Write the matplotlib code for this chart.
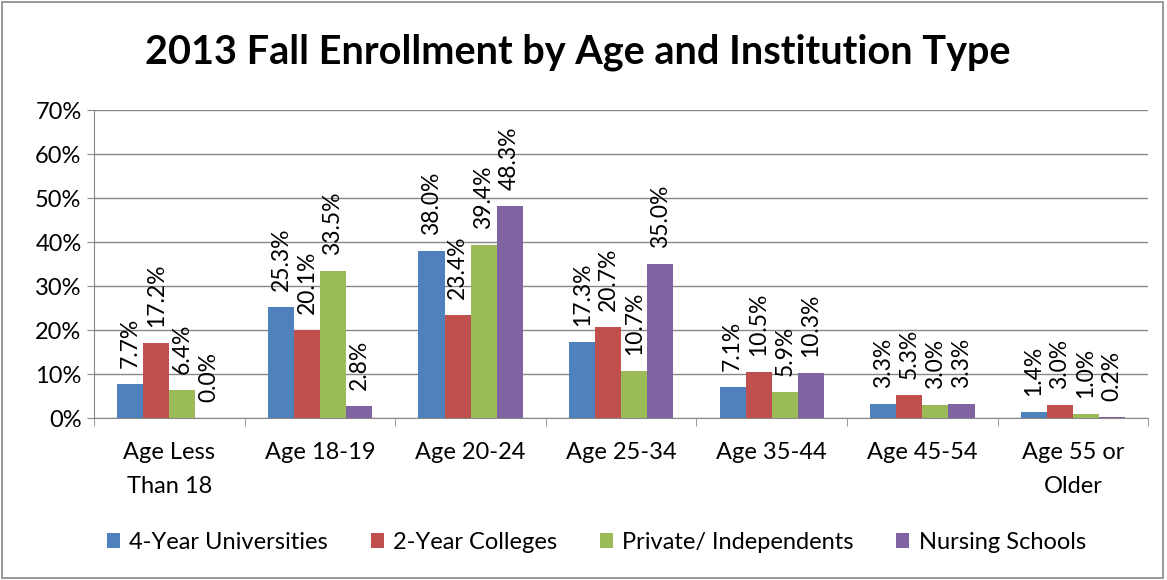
import numpy as np
import matplotlib.pyplot as plt
from matplotlib.patches import Rectangle

plt.rcParams['font.family'] = ['Lato', 'DejaVu Sans']

categories = ["Age Less\nThan 18", "Age 18-19", "Age 20-24", "Age 25-34",
              "Age 35-44", "Age 45-54", "Age 55 or\nOlder"]
series_names = ["4-Year Universities", "2-Year Colleges",
                "Private/ Independents", "Nursing Schools"]
univ = [7.7, 25.3, 38.0, 17.3, 7.1, 3.3, 1.4]
college = [17.2, 20.1, 23.4, 20.7, 10.5, 5.3, 3.0]
private = [6.4, 33.5, 39.4, 10.7, 5.9, 3.0, 1.0]
nursing = [0.0, 2.8, 48.3, 35.0, 10.3, 3.3, 0.2]
colors = ["#4F81BD", "#C0504D", "#9BBB59", "#8064A2"]

fig = plt.figure(figsize=(11.67, 5.8), dpi=100)
ax = fig.add_axes([0.0806, 0.279, 0.9034, 0.531])

x = np.arange(len(categories))
w = 0.173
for i, (vals, name, c) in enumerate(zip([univ, college, private, nursing],
                                         series_names, colors)):
    pos = x + (i - 1.5) * w
    ax.bar(pos, vals, w, color=c, label=name, zorder=3)
    for p, v in zip(pos, vals):
        ax.text(p, v + 3.6, f"{v:.1f}%", rotation=90, ha="center", va="bottom",
                fontsize=16.5, color="black", zorder=4)

ax.set_ylim(0, 70)
ax.set_xlim(-0.5, len(categories) - 0.5)
ax.set_yticks(range(0, 71, 10))
ax.set_yticklabels([f"{t}%" for t in range(0, 71, 10)], fontsize=17)
ax.set_xticks(x)
ax.set_xticklabels(categories, fontsize=17, linespacing=1.75)
ax.set_xticks(np.arange(-0.5, len(categories), 1.0), minor=True)
ax.tick_params(axis="x", which="major", length=0, pad=17)
ax.tick_params(axis="x", which="minor", length=6, color="#888888")
ax.tick_params(axis="y", length=5, color="#888888", pad=4)
ax.yaxis.grid(True, color="#888888", linewidth=1, zorder=0)
for s in ["top", "right"]:
    ax.spines[s].set_visible(False)
ax.spines["left"].set_color("#888888")
ax.spines["bottom"].set_color("#888888")

fig.text(0.495, 0.91, "2013 Fall Enrollment by Age and Institution Type",
         ha="center", va="center", fontsize=28.5, fontweight="bold")

fig.legend(loc="center", bbox_to_anchor=(0.511, 0.065), ncol=4, frameon=False,
           fontsize=17, handlelength=0.55, handleheight=0.55, columnspacing=1.8,
           handletextpad=0.4)

fig.patches.append(Rectangle((0.002, 0.004), 0.995, 0.993, transform=fig.transFigure,
                             fill=False, edgecolor="#888888", linewidth=1.2))

fig.savefig("out.png", dpi=100)
